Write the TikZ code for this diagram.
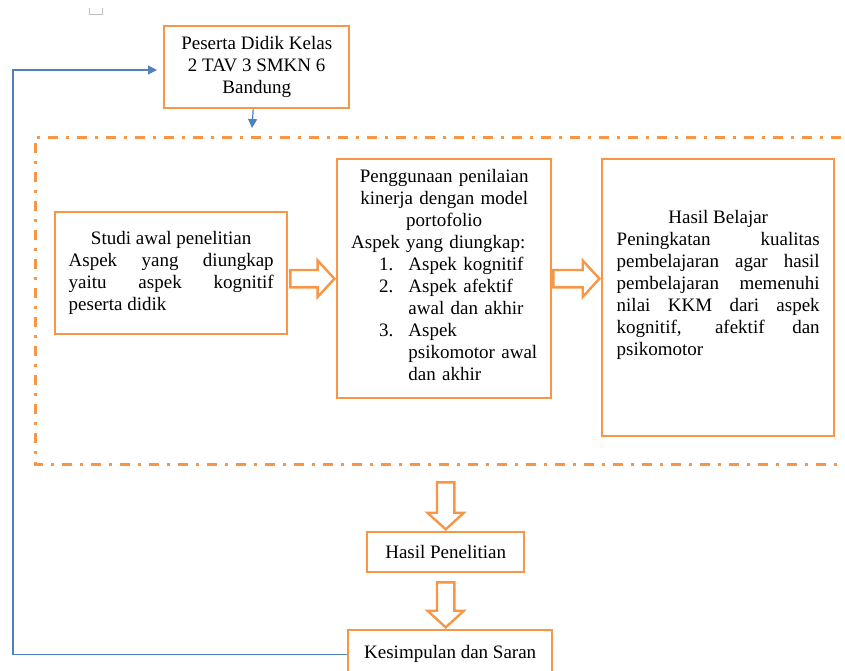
\documentclass[tikz,border=0pt]{standalone}
\usepackage{fontspec}
\setmainfont{Liberation Serif}
\usetikzlibrary{arrows.meta, shapes.arrows, calc}
\definecolor{oranye}{RGB}{247,150,70}
\definecolor{biru}{RGB}{79,129,189}
\tikzset{
  kotak/.style={draw=oranye, line width=2.4pt, inner sep=0pt, anchor=north west, font=\fontsize{19}{22}\selectfont},
  blok/.style={single arrow, draw=oranye, fill=white, line width=2.4pt, inner xsep=0pt, inner ysep=7.5pt,
    single arrow head extend=9.5pt, single arrow tip angle=95, anchor=tip},
  panah/.style={draw=biru, line width=1.2pt, -{Triangle[length=9pt, width=9pt]}}
}
\begin{document}
\begin{tikzpicture}[x=1pt, y=1pt, yscale=-1, xscale=1]
\useasboundingbox (0,0) rectangle (845,670);
% tanda kecil
\draw [gray!50, line width=0.8pt](89, 8) -- (89, 14) -- (102, 14) -- (102, 8);
% bingkai garis titik
\draw [oranye, line width=3pt, dash pattern=on 10pt off 8pt on 3pt off 8pt](870, 137) -- (35, 137) -- (35, 464) -- (870, 464);
% kotak
\node [kotak, minimum width=185pt, minimum height=82pt, align=center] (peserta) at (163, 25) {Peserta Didik Kelas\\2 TAV 3 SMKN 6\\Bandung};
\node [kotak, minimum width=232pt, minimum height=122pt, text width=205pt, align=justify] (studi) at (54, 211)
  {{\centering Studi awal penelitian\par}Aspek yang diungkap\linebreak yaitu aspek kognitif\linebreak peserta didik};
\node [kotak, minimum width=214pt, minimum height=239pt, text width=186pt, align=left] (kinerja) at (336, 158)
  {{\centering Penggunaan penilaian\\kinerja dengan model\\portofolio\par}Aspek yang diungkap:\par
   \begin{tabular}[t]{@{\hspace{28pt}}r@{\hspace{15pt}}l@{}}
   1. & Aspek kognitif\\
   2. & Aspek afektif\\
      & awal dan akhir\\
   3. & Aspek\\
      & psikomotor awal\\
      & dan akhir
   \end{tabular}};
\node [kotak, minimum width=232pt, minimum height=277pt, text width=203pt, align=justify] (hasil) at (601, 158)
  {{\centering Hasil Belajar\par}Peningkatan kualitas\linebreak pembelajaran agar hasil\linebreak pembelajaran memenuhi\linebreak nilai KKM dari aspek\linebreak kognitif, afektif dan\linebreak psikomotor\par\strut};
\node [kotak, minimum width=157pt, minimum height=40pt] (penelitian) at (366, 531) {Hasil Penelitian};
\node [kotak, minimum width=204pt, minimum height=48pt] (kesimpulan) at (347, 629) {Kesimpulan dan Saran};
% panah blok
\node [blok, minimum height=44pt] (p1) at (kinerja.west) {};
\node [blok, minimum height=46pt] (p2) at (hasil.west |- kinerja.east) {};
\node [blok, minimum height=47pt, rotate=-90] (p3) at (penelitian.north) {};
\node [blok, minimum height=45pt, rotate=-90] (p4) at (penelitian.north |- kesimpulan.north) {};
% panah biru
\coordinate (ujung) at (252, 128);
\coordinate (kiri) at (13, 70);
\draw [panah]($(peserta.south)+(-3.5, 0)$) -- (ujung);
\draw [panah, shorten >=6pt](kesimpulan.west) -| (kiri) -- (kiri -| peserta.west);
\end{tikzpicture}
\end{document}
